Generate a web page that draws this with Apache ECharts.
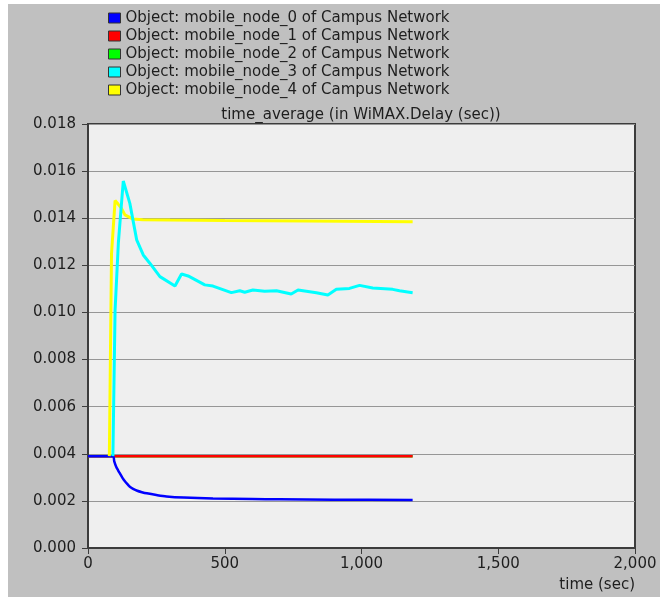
<!DOCTYPE html>
<html>
<head>
<meta charset="utf-8">
<script src="https://cdn.jsdelivr.net/npm/echarts@6/dist/echarts.min.js"></script>
<style>
  html, body { margin: 0; padding: 0; background: #ffffff; width: 660px; height: 597px; overflow: hidden; }
  #chart { position: absolute; left: 8px; top: 4px; width: 652px; height: 593px; }
</style>
</head>
<body>
<div id="chart"></div>
<script>
// ---- data ----
const seriesNames = [
  'Object: mobile_node_0 of Campus Network',
  'Object: mobile_node_1 of Campus Network',
  'Object: mobile_node_2 of Campus Network',
  'Object: mobile_node_3 of Campus Network',
  'Object: mobile_node_4 of Campus Network'
];
const seriesColors = ['#0000ff', '#ff0000', '#00ff00', '#00ffff', '#ffff00'];

// time (sec) / value pairs
const node0 = [[0,0.0039],[91,0.0039],[96,0.00368],[103,0.00345],[110,0.00330],[117,0.00316],[126,0.00298],[135,0.00283],[145,0.00270],[153,0.00260],[165,0.00251],[180,0.00243],[197,0.00237],[215,0.00232],[250,0.00225],[287,0.00219],[350,0.00214],[457,0.0021],[600,0.00208],[700,0.00207],[900,0.00205],[1187,0.00204]];
const node1 = [[0,0.0039],[1187,0.0039]];
const node2 = [[0,0.0039],[1187,0.0039]];
const node3 = [[91,0.0039],[99,0.0101],[111,0.01295],[129,0.01558],[153,0.01463],[178,0.01308],[202,0.01244],[226,0.01209],[263,0.01152],[318,0.01112],[342,0.01163],[366,0.01155],[427,0.01117],[457,0.01112],[524,0.01084],[555,0.01092],[573,0.01086],[603,0.01095],[646,0.0109],[689,0.01092],[743,0.01078],[768,0.01095],[835,0.01084],[877,0.01074],[908,0.01098],[956,0.01102],[993,0.01115],[1041,0.01104],[1114,0.01098],[1139,0.01092],[1187,0.01084]];
const node4 = [[78,0.0039],[86,0.0125],[99,0.01475],[110,0.0146],[122,0.01443],[135,0.01414],[147,0.01407],[163,0.01397],[200,0.01394],[300,0.01392],[500,0.0139],[800,0.01388],[1187,0.01385]];

const xTicks = [0, 500, 1000, 1500, 2000];
const yTicks = [0, 0.002, 0.004, 0.006, 0.008, 0.010, 0.012, 0.014, 0.016, 0.018];

const titleText = 'time_average (in WiMAX.Delay (sec))';
const xAxisName = 'time (sec)';

// ---- chart ----
const FONT = 'DejaVu Sans';
const TEXT = '#1e1e1e';
const chart = echarts.init(document.getElementById('chart'), null, { renderer: 'canvas' });

const dataList = [node0, node1, node2, node3, node4];
const zOrder = [4, 3, 2, 6, 5];
const widths = [2.5, 2.5, 2.5, 3, 3];
const smoothing = [0.3, false, false, false, false];

chart.setOption({
  backgroundColor: '#c0c0c0',
  animation: false,
  title: {
    text: titleText,
    left: 348,
    top: 99,
    textAlign: 'center',
    textStyle: { fontFamily: FONT, fontSize: 15, fontWeight: 'normal', color: TEXT }
  },
  legend: {
    orient: 'vertical',
    left: 100,
    top: 5,
    padding: 0,
    itemWidth: 12,
    itemHeight: 10,
    itemGap: 0,
    icon: 'rect',
    data: seriesNames,
    textStyle: { fontFamily: FONT, fontSize: 15, color: TEXT, lineHeight: 18 },
    itemStyle: { borderColor: '#333333', borderWidth: 1 },
    inactiveColor: '#888'
  },
  grid: {
    left: 80,
    top: 120,
    width: 547,
    height: 424,
    show: true,
    backgroundColor: '#efefef',
    borderColor: '#3c3c3c',
    borderWidth: 2
  },
  xAxis: {
    type: 'value',
    min: xTicks[0],
    max: xTicks[xTicks.length - 1],
    interval: 500,
    name: xAxisName,
    nameLocation: 'end',
    nameGap: 0,
    nameTextStyle: { fontFamily: FONT, fontSize: 15, color: TEXT, align: 'right', verticalAlign: 'top', padding: [30, 0, 0, 0] },
    axisLine: { lineStyle: { color: '#3c3c3c', width: 2 } },
    axisTick: { show: true, inside: false, length: 6, lineStyle: { color: '#3c3c3c', width: 1 } },
    axisLabel: {
      margin: 9,
      fontFamily: FONT, fontSize: 15, color: TEXT,
      formatter: v => v.toLocaleString('en-US')
    },
    splitLine: { show: false }
  },
  yAxis: {
    type: 'value',
    min: yTicks[0],
    max: yTicks[yTicks.length - 1],
    interval: 0.002,
    axisLine: { show: true, lineStyle: { color: '#3c3c3c', width: 2 } },
    axisTick: { show: true, inside: false, length: 6, lineStyle: { color: '#3c3c3c', width: 1 } },
    axisLabel: {
      margin: 12,
      fontFamily: FONT, fontSize: 15, color: TEXT,
      formatter: v => v.toFixed(3)
    },
    splitLine: { show: true, lineStyle: { color: '#969696', width: 1.2 } }
  },
  series: seriesNames.map((name, i) => ({
    name: name,
    type: 'line',
    data: dataList[i],
    z: zOrder[i],
    showSymbol: false,
    symbol: 'none',
    smooth: smoothing[i],
    color: seriesColors[i],
    lineStyle: { color: seriesColors[i], width: widths[i] },
    itemStyle: { color: seriesColors[i], borderColor: '#333333', borderWidth: 1 }
  }))
});
</script>
</body>
</html>
